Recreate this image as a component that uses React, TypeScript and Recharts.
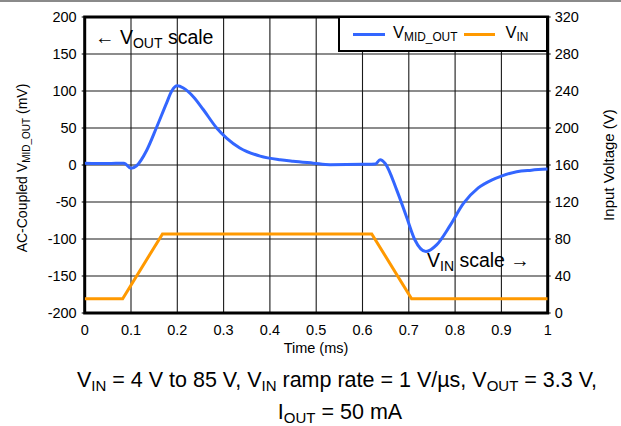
import { CartesianGrid, Legend, Line, LineChart, ReferenceArea, XAxis, YAxis } from 'recharts';

const FONT = '"Liberation Sans", Arial, Helvetica, sans-serif';
const BLUE = '#3366ff';
const ORANGE = '#ff9900';

// axis ticks
const timeTicks = [0, 0.1, 0.2, 0.3, 0.4, 0.5, 0.6, 0.7, 0.8, 0.9, 1];
const mvTicks = [-200, -150, -100, -50, 0, 50, 100, 150, 200];
const voltTicks = [0, 40, 80, 120, 160, 200, 240, 280, 320];

// AC-coupled V_MID_OUT trace (mV) vs time (ms)
const midTime = [
  0, 0.05, 0.085, 0.1, 0.112, 0.134, 0.156, 0.177, 0.188, 0.2, 0.213, 0.235, 0.256, 0.285,
  0.307, 0.335, 0.379, 0.422, 0.45, 0.494, 0.53, 0.6, 0.628, 0.638, 0.649, 0.674, 0.695,
  0.713, 0.737, 0.76, 0.789, 0.818, 0.85, 0.88, 0.9, 0.933, 0.965, 1,
];
const midMv = [
  2.5, 2, 2.5, -4.5, -1, 20, 52, 84, 100, 107, 104, 92, 75, 50,
  36, 23, 12, 7, 5, 2.5, 0.5, 1, 1.5, 7, 2, -34, -70,
  -101, -117, -108, -82, -52, -31, -20, -15, -9, -7, -5.5,
];

// input voltage ramp (V) vs time (ms)
const vinTime = [0, 0.082, 0.168, 0.62, 0.706, 1];
const vinVolts = [15.5, 15.5, 85.5, 85.5, 15.5, 15.5];

const midData = midTime.map((t, i) => ({ t, mv: midMv[i] }));
const vinData = vinTime.map((t, i) => ({ t, v: vinVolts[i] }));

const tickStyle = { fill: '#000', fontSize: 14.5, fontFamily: FONT };
const sub = { fontSize: '0.72em', verticalAlign: '-0.28em' };

function LegendBox() {
  return (
    <div
      style={{
        boxSizing: 'border-box',
        width: 210,
        height: 36,
        border: '2px solid #000',
        background: '#fff',
        display: 'flex',
        alignItems: 'center',
        fontFamily: FONT,
        fontSize: 16.5,
        color: '#000',
      }}
    >
      <span style={{ marginLeft: 13, width: 32, height: 3, background: BLUE }} />
      <span style={{ marginLeft: 8 }}>
        V<span style={sub}>MID_OUT</span>
      </span>
      <span style={{ marginLeft: 7, width: 31, height: 3, background: ORANGE }} />
      <span style={{ marginLeft: 10 }}>
        V<span style={sub}>IN</span>
      </span>
    </div>
  );
}

export default function App() {
  return (
    <div style={{ position: 'absolute', left: 0, top: 0, width: 621, height: 426, background: '#fff' }}>
      <div style={{ position: 'absolute', left: 0, top: 0, width: 621, height: 2, background: '#8a8a8a' }} />
      <LineChart
        width={621}
        height={426}
        margin={{ top: 17, right: 23.3, bottom: 83, left: 24.7 }}
      >
        <CartesianGrid yAxisId="l" stroke="#1a1a1a" strokeWidth={1.1} />
        <XAxis
          dataKey="t"
          type="number"
          domain={[0, 1]}
          ticks={timeTicks}
          height={30}
          axisLine={false}
          tickLine={false}
          tickSize={0}
          tickMargin={12}
          tick={tickStyle}
          tickFormatter={(v) => String(v)}
          allowDataOverflow
        />
        <YAxis
          yAxisId="l"
          domain={[-200, 200]}
          ticks={mvTicks}
          width={60}
          axisLine={false}
          tickSize={3}
          tickMargin={5}
          tickLine={{ stroke: '#000' }}
          tick={tickStyle}
          interval={0}
        />
        <YAxis
          yAxisId="r"
          orientation="right"
          domain={[0, 320]}
          ticks={voltTicks}
          width={50}
          axisLine={false}
          tickSize={3}
          tickMargin={4}
          tickLine={{ stroke: '#000' }}
          tick={tickStyle}
          interval={0}
        />
        <Line
          yAxisId="r"
          data={vinData}
          dataKey="v"
          name="VIN"
          type="linear"
          stroke={ORANGE}
          strokeWidth={3}
          dot={false}
          isAnimationActive={false}
        />
        <Line
          yAxisId="l"
          data={midData}
          dataKey="mv"
          name="VMID_OUT"
          type="monotone"
          stroke={BLUE}
          strokeWidth={3}
          dot={false}
          isAnimationActive={false}
        />
        <ReferenceArea
          yAxisId="l"
          x1={0}
          x2={1}
          y1={-200}
          y2={200}
          fill="none"
          stroke="#000"
          strokeWidth={3}
          ifOverflow="visible"
        />
        <Legend
          layout="horizontal"
          verticalAlign="middle"
          align="center"
          content={() => <LegendBox />}
          wrapperStyle={{ left: 338, top: 16, width: 210, height: 36 }}
        />
      </LineChart>
      <svg
        width={621}
        height={426}
        style={{ position: 'absolute', left: 0, top: 0, pointerEvents: 'none' }}
        fontFamily={FONT}
        fill="#000"
      >
        <text transform="translate(27,168) rotate(-90)" textAnchor="middle" fontSize={14}>
          AC-Coupled V
          <tspan dy={3} fontSize={10}>MID_OUT</tspan>
          <tspan dy={-3}> (mV)</tspan>
        </text>
        <text transform="translate(614,165) rotate(-90)" textAnchor="middle" fontSize={15}>
          Input Voltage (V)
        </text>
        <text x={316} y={353} textAnchor="middle" fontSize={14.5}>
          Time (ms)
        </text>
        <text x={95} y={44} fontSize={19.5}>
          ← V<tspan dy={4} fontSize={14}>OUT</tspan>
          <tspan dy={-4}> scale</tspan>
        </text>
        <text x={427} y={267} fontSize={19.5}>
          V<tspan dy={4} fontSize={14}>IN</tspan>
          <tspan dy={-4}> scale →</tspan>
        </text>
        <text x={337} y={387} textAnchor="middle" fontSize={21.5}>
          V<tspan dy={4} fontSize={15}>IN</tspan>
          <tspan dy={-4}> = 4 V to 85 V, V</tspan>
          <tspan dy={4} fontSize={15}>IN</tspan>
          <tspan dy={-4}> ramp rate = 1 V/µs, V</tspan>
          <tspan dy={4} fontSize={15}>OUT</tspan>
          <tspan dy={-4}> = 3.3 V,</tspan>
        </text>
        <text x={340} y={419} textAnchor="middle" fontSize={21.5}>
          I<tspan dy={4} fontSize={15}>OUT</tspan>
          <tspan dy={-4}> = 50 mA</tspan>
        </text>
      </svg>
    </div>
  );
}
